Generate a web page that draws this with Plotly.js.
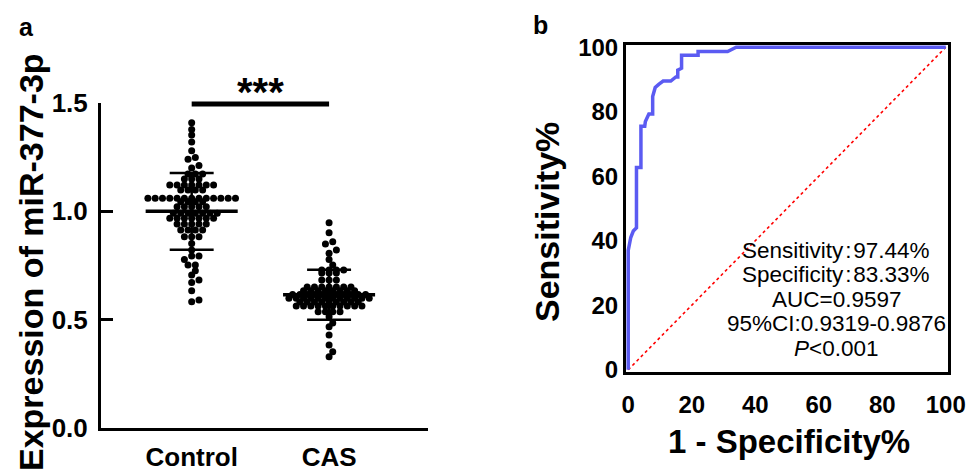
<!DOCTYPE html>
<html><head><meta charset="utf-8">
<script src="https://cdn.plot.ly/plotly-3.0.1.min.js"></script>
<style>html,body{margin:0;padding:0;background:#fff;}#chart{width:974px;height:472px;}</style>
</head><body><div id="chart"></div>
<script>
// ---------------- data ----------------
const groups = ['Control', 'CAS'];
const controlValues = [1.409, 1.378, 1.352, 1.320, 1.280, 1.249, 1.240, 1.212, 1.200,
  1.172, 1.172, 1.172,
  1.149, 1.149, 1.149,
  1.121, 1.121, 1.121, 1.121, 1.121, 1.121, 1.121,
  1.098, 1.098, 1.098, 1.098,
  1.060, 1.060, 1.060, 1.060, 1.060, 1.060, 1.060, 1.060, 1.060, 1.060, 1.060, 1.060, 1.060,
  1.044, 1.044, 1.044, 1.044,
  1.021, 1.021, 1.021, 1.021, 1.021,
  0.991, 0.991, 0.991, 0.991, 0.991, 0.991, 0.991,
  0.968, 0.968, 0.968, 0.968, 0.968, 0.968, 0.968,
  0.941, 0.941, 0.941, 0.941, 0.941,
  0.914, 0.914, 0.914, 0.914,
  0.883, 0.883, 0.883,
  0.852, 0.821, 0.794, 0.794, 0.778, 0.752, 0.752, 0.726, 0.706, 0.683, 0.671, 0.634, 0.591, 0.583];
const casValues = [0.947, 0.901, 0.860, 0.849, 0.821, 0.806, 0.778, 0.752,
  0.729, 0.729, 0.729, 0.729,
  0.715, 0.715, 0.715,
  0.683, 0.683, 0.683,
  0.651, 0.651, 0.651, 0.651, 0.651, 0.651, 0.651,
  0.633, 0.633, 0.633, 0.633, 0.633, 0.633, 0.633, 0.633,
  0.616, 0.616, 0.616, 0.616, 0.616, 0.616, 0.616, 0.616, 0.616, 0.616, 0.616,
  0.599, 0.599, 0.599, 0.599, 0.599, 0.599, 0.599, 0.599, 0.599, 0.599, 0.599, 0.599,
  0.582, 0.582, 0.582, 0.582, 0.582, 0.582, 0.582, 0.582, 0.582,
  0.563, 0.563, 0.563, 0.563, 0.563, 0.563, 0.563, 0.563, 0.563, 0.563,
  0.537, 0.537, 0.537, 0.537,
  0.514, 0.485, 0.467, 0.429, 0.383, 0.352, 0.329];
const groupMeans = [1.00, 0.615];
const groupSDs = [0.177, 0.115];
const expTickVals = [0, 0.5, 1.0, 1.5];
const expTickText = ['0.0', '0.5', '1.0', '1.5'];
const expTitle = 'Expression of miR-377-3p';
const sigLabel = '***';

const rocFPR = [0, 0, 0.8, 1.6, 2.6, 2.6, 4.0, 4.0, 5.2, 5.4, 6.5, 7.7, 7.7, 8.5, 9.6, 11.0, 13.4, 15.0, 15.6, 15.6, 16.8, 16.8, 22.0, 22.0, 31.3, 34.0, 100];
const rocTPR = [0, 37.0, 41.0, 43.0, 44.0, 62.7, 62.7, 75.5, 75.5, 77.0, 79.3, 79.3, 84.7, 87.5, 88.5, 89.5, 89.5, 90.8, 90.8, 92.9, 93.5, 97.5, 97.5, 98.7, 98.7, 100, 100];
const refLine = [0, 100];
const rocTicks = [0, 20, 40, 60, 80, 100];
const rocXTitle = '1 - Specificity%';
const rocYTitle = 'Sensitivity%';
const statsLines = ['Sensitivity\u200A:\u200A97.44%', 'Specificity\u200A:\u200A83.33%', 'AUC=0.9597', '95%CI:0.9319-0.9876', '<i>P</i>&lt;0.001'];
const panelLabels = ['a', 'b'];

// ---------------- layout geometry ----------------
const W = 974, H = 472;
const FONT = 'Liberation Sans, Arial, Helvetica, sans-serif';
const px2x = v => v / W;
const px2y = v => 1 - v / H;

const leftX = [101, 428], leftY = [428, 103];
const leftXRange = [-0.66, 1.72], leftYRange = [0, 1.5];
const rightX = [626, 948], rightY = [372, 45];

const pxPerUnitX = (leftX[1] - leftX[0]) / (leftXRange[1] - leftXRange[0]);
const pxPerUnitY = (leftY[0] - leftY[1]) / (leftYRange[1] - leftYRange[0]);
const DOT = 7;

// row-based dot layout (like a scatter dot plot): values binned into rows,
// each row centred, shifted by half a step when it would collide with rows already placed.
function swarm(vals) {
  const binH = 3.7, step = 7.3, minD = 5.0;
  const bins = new Map();
  vals.forEach((v, i) => {
    const b = Math.round(v * pxPerUnitY / binH);
    if (!bins.has(b)) bins.set(b, []);
    bins.get(b).push(i);
  });
  const keys = [...bins.keys()].sort((a, b) => a - b);
  const placed = [];
  const out = new Array(vals.length).fill(0);
  const shifts = [0, step / 2, -step / 2, step, -step];
  keys.forEach(k => {
    const idx = bins.get(k).sort((a, b) => vals[a] - vals[b]);
    const n = idx.length;
    const base = idx.map((_, j) => (j - (n - 1) / 2) * step);
    let best = 0, bestCnt = Infinity;
    for (const sh of shifts) {
      let cnt = 0;
      idx.forEach((i, j) => {
        const x = base[j] + sh, y = vals[i] * pxPerUnitY;
        placed.forEach(p => { if ((p.x - x) ** 2 + (p.y - y) ** 2 < minD * minD) cnt++; });
      });
      if (cnt < bestCnt) { bestCnt = cnt; best = sh; }
      if (cnt === 0) break;
    }
    idx.forEach((i, j) => {
      const x = base[j] + best;
      placed.push({x: x, y: vals[i] * pxPerUnitY});
      out[i] = x / pxPerUnitX;
    });
  });
  return out;
}

const groupValues = [controlValues, casValues];
const traces = [];
groupValues.forEach((vals, g) => {
  const off = swarm(vals);
  traces.push({
    type: 'scatter', mode: 'markers', xaxis: 'x', yaxis: 'y',
    x: off.map(o => g + o), y: vals,
    marker: {size: DOT, color: '#000'}, hoverinfo: 'skip', showlegend: false
  });
});
// mean and SD lines
const meanHalf = 0.335, capHalf = 0.16;
const meanX = [], meanY = [], sdX = [], sdY = [];
groupMeans.forEach((m, g) => {
  const s = groupSDs[g];
  meanX.push(g - meanHalf, g + meanHalf, null); meanY.push(m, m, null);
  sdX.push(g, g, null, g - capHalf, g + capHalf, null, g - capHalf, g + capHalf, null);
  sdY.push(m - s, m + s, null, m + s, m + s, null, m - s, m - s, null);
});
traces.push({type: 'scatter', mode: 'lines', xaxis: 'x', yaxis: 'y', x: sdX, y: sdY,
  line: {color: '#000', width: 2.5}, hoverinfo: 'skip', showlegend: false});
traces.push({type: 'scatter', mode: 'lines', xaxis: 'x', yaxis: 'y', x: meanX, y: meanY,
  line: {color: '#000', width: 3.5}, hoverinfo: 'skip', showlegend: false});

// ROC
traces.push({type: 'scatter', mode: 'lines', xaxis: 'x2', yaxis: 'y2', x: refLine, y: refLine,
  line: {color: '#ff0000', width: 1.6, dash: '3px,3px'}, hoverinfo: 'skip', showlegend: false});
traces.push({type: 'scatter', mode: 'lines', xaxis: 'x2', yaxis: 'y2', x: rocFPR, y: rocTPR,
  line: {color: '#5b5bf2', width: 3.5}, hoverinfo: 'skip', showlegend: false});

const tickFontL = {family: FONT, size: 26, color: '#000', weight: 'bold'};
const tickFontR = {family: FONT, size: 24, color: '#000', weight: 'bold'};

const annotations = [
  {text: panelLabels[0], x: px2x(26), y: px2y(27), xref: 'paper', yref: 'paper', showarrow: false,
   xanchor: 'center', yanchor: 'middle', font: {family: FONT, size: 25, color: '#000', weight: 'bold'}},
  {text: panelLabels[1], x: px2x(540), y: px2y(25), xref: 'paper', yref: 'paper', showarrow: false,
   xanchor: 'center', yanchor: 'middle', font: {family: FONT, size: 25, color: '#000', weight: 'bold'}},
  {text: expTitle, x: px2x(31), y: px2y(262), xref: 'paper', yref: 'paper', showarrow: false, textangle: -90,
   xanchor: 'center', yanchor: 'middle', font: {family: FONT, size: 34, color: '#000', weight: 'bold'}},
  {text: sigLabel, x: 0.5, xref: 'x', y: px2y(92), yref: 'paper', showarrow: false,
   xanchor: 'center', yanchor: 'middle', font: {family: FONT, size: 40, color: '#000', weight: 'bold'}},
  {text: rocYTitle, x: px2x(547), y: px2y(222), xref: 'paper', yref: 'paper', showarrow: false, textangle: -90,
   xanchor: 'center', yanchor: 'middle', font: {family: FONT, size: 34, color: '#000', weight: 'bold'}},
  {text: rocXTitle, x: px2x(789), y: px2y(441), xref: 'paper', yref: 'paper', showarrow: false,
   xanchor: 'center', yanchor: 'middle', font: {family: FONT, size: 33, color: '#000', weight: 'bold'}}
];
const statsY = [250, 274, 299, 323, 348];
statsLines.forEach((t, i) => annotations.push({
  text: t, x: px2x(836), y: px2y(statsY[i]), xref: 'paper', yref: 'paper', showarrow: false,
  xanchor: 'center', yanchor: 'middle', font: {family: FONT, size: 22.5, color: '#000'}
}));

const layout = {
  width: W, height: H, margin: {l: 0, r: 0, t: 0, b: 0},
  paper_bgcolor: '#fff', plot_bgcolor: 'rgba(0,0,0,0)', showlegend: false,
  xaxis: {domain: [px2x(leftX[0]), px2x(leftX[1])], range: leftXRange, showgrid: false, zeroline: false,
    showline: true, linewidth: 3, linecolor: '#000', tickvals: [0, 1], ticktext: groups,
    ticks: 'outside', ticklen: 4, tickcolor: 'rgba(0,0,0,0)', tickfont: tickFontL, fixedrange: true},
  yaxis: {domain: [px2y(leftY[0]), px2y(leftY[1])], range: leftYRange, showgrid: false, zeroline: false,
    showline: true, linewidth: 3, linecolor: '#000', tickvals: expTickVals, ticktext: expTickText,
    ticks: 'inside', ticklen: 12, tickwidth: 3, tickcolor: '#000', tickfont: tickFontL, ticklabelstandoff: 5, fixedrange: true},
  xaxis2: {domain: [px2x(rightX[0]), px2x(rightX[1])], range: [-0.7, 100.7], anchor: 'y2', showgrid: false, zeroline: false,
    showline: true, mirror: true, linewidth: 3, linecolor: '#000', tickvals: rocTicks,
    ticks: 'outside', ticklen: 9, tickcolor: 'rgba(0,0,0,0)', tickfont: tickFontR, fixedrange: true},
  yaxis2: {domain: [px2y(rightY[0]), px2y(rightY[1])], range: [-0.7, 100.7], anchor: 'x2', showgrid: false, zeroline: false,
    showline: true, mirror: true, linewidth: 3, linecolor: '#000', tickvals: rocTicks,
    ticks: '', tickfont: tickFontR, ticklabelstandoff: 0, fixedrange: true},
  shapes: [
    {type: 'line', xref: 'x', yref: 'paper', x0: 0, x1: 1, y0: px2y(104), y1: px2y(104),
     line: {color: '#000', width: 5}}
  ],
  annotations: annotations
};

Plotly.newPlot('chart', traces, layout, {displayModeBar: false, staticPlot: true});
</script>
</body></html>
